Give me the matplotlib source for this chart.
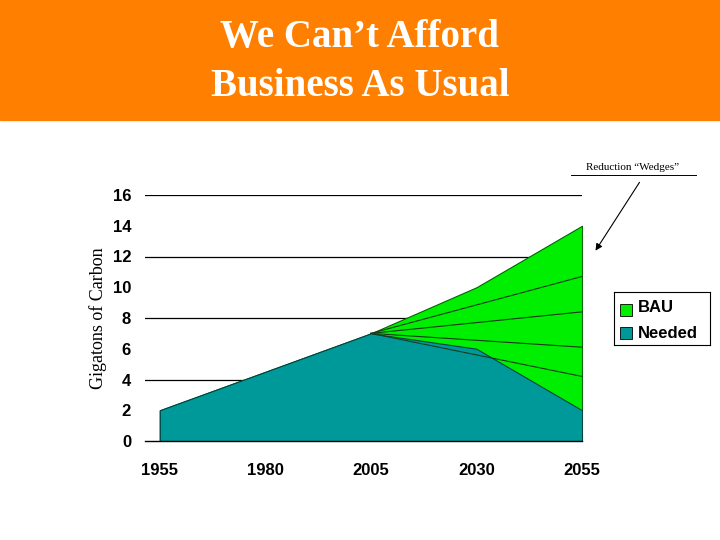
import matplotlib
matplotlib.use('Agg')
import matplotlib.pyplot as plt
from matplotlib.patches import Rectangle

years = [1955, 1980, 2005, 2030, 2055]
bau = [2, 4.5, 7, 10, 14]
needed = [2, 4.5, 7, 6, 2]
# wedge boundary lines from 2005 to 2055
wedge_start = 7
wedge_ends = [10.7, 8.4, 6.1, 4.2]

fig = plt.figure(figsize=(7.2, 5.4), dpi=100)

# orange header
fig.patches.append(Rectangle((0, 1 - 120 / 540), 1, 120 / 540, transform=fig.transFigure,
                             color='#FF8000', zorder=0))
fig.text(0.5, 1 - 38 / 540, "We Can’t Afford", ha='center', va='center', color='white',
         fontsize=28, fontweight='bold', family='Liberation Serif')
fig.text(0.5, 1 - 86 / 540, "Business As Usual", ha='center', va='center', color='white',
         fontsize=28, fontweight='bold', family='Liberation Serif')

ax = fig.add_axes([145 / 720, 1 - 441 / 540, (582 - 145) / 720, (441 - 195) / 540])
ax.fill_between(years, bau, color='#00EE00', lw=0.8, edgecolor='#006600', zorder=2)
ax.fill_between(years, needed, color='#009999', lw=0.8, edgecolor='#004444', zorder=3)
for e in wedge_ends:
    ax.plot([2005, 2055], [wedge_start, e], color='#1a3a1a', lw=0.8, zorder=4)

ax.set_xlim(1951.5, 2055)
ax.set_ylim(0, 16)
ax.set_yticks(range(0, 17, 2))
ax.set_xticks(years)
for y in [4, 8, 12, 16]:
    ax.axhline(y, color='black', lw=0.9, zorder=1)
for s in ['top', 'right', 'left']:
    ax.spines[s].set_visible(False)
ax.spines['bottom'].set_zorder(5)
ax.spines['bottom'].set_linewidth(1.0)
ax.tick_params(axis='y', length=0, pad=10)
ax.tick_params(axis='x', direction='in', length=6, pad=14)
ax.set_xticks([1980, 2005, 2030, 2055], minor=False)
ax.set_xticklabels([])
for x in years:
    ax.text(x, -1.9, str(x), ha='center', va='center', fontsize=12, fontweight='bold',
            family='Liberation Sans')
for t in ax.get_yticklabels():
    t.set_fontsize(12)
    t.set_fontweight('bold')
    t.set_family('Liberation Sans')
ax.set_ylabel("Gigatons of Carbon", fontsize=13, family='Liberation Serif', labelpad=4)

# legend
lax = fig.add_axes([614 / 720, 1 - 345 / 540, 96 / 720, 53 / 540])
lax.set_xlim(0, 96)
lax.set_ylim(0, 53)
lax.set_xticks([])
lax.set_yticks([])
for s in lax.spines.values():
    s.set_linewidth(0.8)
lax.add_patch(Rectangle((6, 29), 12, 12, facecolor='#00EE00', edgecolor='black', lw=0.6))
lax.add_patch(Rectangle((6, 6), 12, 12, facecolor='#009999', edgecolor='black', lw=0.6))
lax.text(24, 38, "BAU", va='center', fontsize=12, fontweight='bold', family='Liberation Sans')
lax.text(24, 12, "Needed", va='center', fontsize=12, fontweight='bold', family='Liberation Sans')

# annotation
fig.text(633 / 720, 1 - 168 / 540, "Reduction “Wedges”", ha='center', va='center',
         fontsize=8, family='Liberation Serif')
fig.lines.append(plt.Line2D([571 / 720, 696 / 720], [1 - 175 / 540, 1 - 175 / 540],
                            transform=fig.transFigure, color='black', lw=0.7))
fig.patches.append(matplotlib.patches.FancyArrowPatch(
    (641 / 720, 1 - 180 / 540), (594 / 720, 1 - 253 / 540), transform=fig.transFigure,
    arrowstyle='-|>', mutation_scale=10, color='black', lw=0.8))

fig.savefig('out.png', dpi=100)
